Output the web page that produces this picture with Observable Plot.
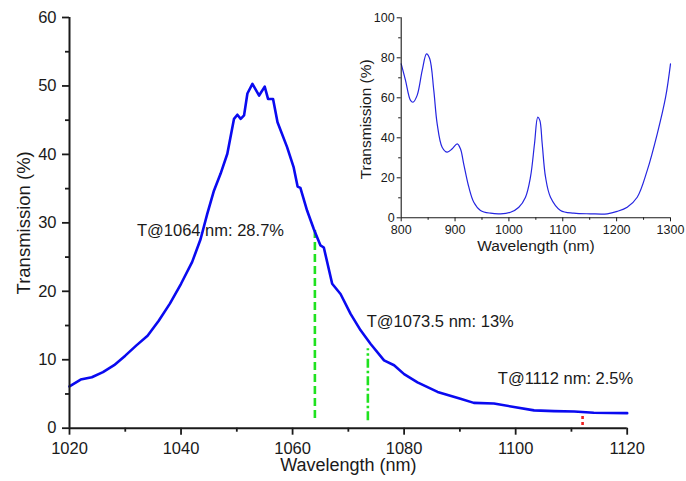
<!DOCTYPE html>
<html>
<head>
<meta charset="utf-8">
<script src="https://cdn.jsdelivr.net/npm/d3@7"></script>
<script src="https://cdn.jsdelivr.net/npm/@observablehq/plot@0.6"></script>
<style>
  html, body { margin: 0; padding: 0; background: #fff; }
  #wrap { position: relative; width: 686px; height: 481px; overflow: hidden; }
  #inset { position: absolute; left: 340px; top: 0px; }
</style>
</head>
<body>
<div id="wrap"><div id="main"></div><div id="inset"></div></div>
<script>
// ---------- main chart data ----------
const mainWl = [1020, 1022, 1024, 1026, 1028, 1030, 1032, 1034, 1036, 1038, 1040, 1042, 1043.5, 1044.7, 1045.9, 1047.1, 1048.3, 1049.5, 1050.1, 1050.7, 1051.3, 1051.9, 1052.8, 1054.0, 1055.0, 1055.6, 1056.5, 1057.3, 1059.0, 1060.2, 1060.9, 1061.4, 1062.6, 1063.8, 1065.0, 1065.6, 1067.1, 1068.6, 1070.4, 1072.2, 1074.0, 1076.4, 1078.2, 1080.0, 1082.4, 1086.0, 1090.1, 1092.5, 1096.1, 1099.7, 1103.3, 1106.9, 1110.5, 1114.0, 1120];
const mainT  = [6.1, 7.1, 7.45, 8.2, 9.2, 10.6, 12.1, 13.5, 15.7, 18.2, 21.1, 24.3, 27.6, 31.3, 34.7, 37.2, 40.1, 45.2, 45.8, 45.2, 45.7, 48.9, 50.3, 48.6, 49.9, 48.1, 48.1, 44.7, 41.1, 38.1, 35.3, 35.1, 31.8, 29.1, 26.7, 26.4, 21.1, 19.6, 16.7, 14.3, 12.3, 9.9, 9.2, 7.9, 6.7, 5.3, 4.3, 3.7, 3.6, 3.1, 2.6, 2.5, 2.45, 2.25, 2.2];

const mainXTicks = [1020, 1040, 1060, 1080, 1100, 1120];
const mainXMinor = [1030, 1050, 1070, 1090, 1110];
const mainYTicks = [0, 10, 20, 30, 40, 50, 60];
const mainYMinor = [5, 15, 25, 35, 45, 55];

// marker lines & annotations
const markWl     = [1064, 1073.5, 1112];
const markTop    = [29.0, 11.6, 2.3];
const markBottom = [1.4, 1.1, 0.4];
const labelText  = ["T@1064 nm: 28.7%", "T@1073.5 nm: 13%", "T@1112 nm: 2.5%"];
const labelX     = [1032.1, 1073.3, 1096.8];
const labelY     = [28.8, 15.6, 7.2];

// ---------- inset data ----------
const insetWl = [800, 808, 817.3, 822, 829.6, 839, 847, 853, 860.5, 866.8, 876, 885.4, 894.7, 904, 910, 916, 925.6, 934.8, 947.2, 965.8, 984.4, 1003, 1018.4, 1030.8, 1040, 1047.5, 1053.6, 1057.4, 1061.8, 1068, 1077.2, 1095.8, 1120.5, 1151.5, 1182.5, 1201, 1219.6, 1238.2, 1256.8, 1275.4, 1290.9, 1300];
const insetT  = [77, 68.7, 58.7, 57.8, 61.2, 73.7, 82, 79.5, 63.7, 47, 35.3, 32.8, 34.5, 37, 34.5, 27, 15.3, 7.8, 3.7, 2.3, 2, 2.8, 5.3, 10.3, 20.3, 37, 50.3, 48.7, 37, 20.3, 10.3, 3.7, 2.3, 2, 2, 3.2, 5.3, 10.3, 23.7, 42, 60.3, 77];

const insetXTicks = [800, 900, 1000, 1100, 1200, 1300];
const insetXMinor = [850, 950, 1050, 1150, 1250];
const insetYTicks = [0, 20, 40, 60, 80, 100];
const insetYMinor = [10, 30, 50, 70, 90];

const FONT = "'Liberation Sans', Arial, Helvetica, sans-serif";
const fmt = d => String(d);
const noLabel = () => "";

const mainData = mainWl.map((w, i) => ({w, t: mainT[i]}));
const marks = markWl.map((w, i) => ({w, top: markTop[i], bottom: markBottom[i]}));
const labels = labelText.map((s, i) => ({s, x: labelX[i], y: labelY[i]}));
const lineStyles = [
  {stroke: "#1fe21f", dash: "8,4"},
  {stroke: "#1fe21f", dash: "9,3,2.5,3"},
  {stroke: "#ee2020", dash: "3,3"}
];

const main = Plot.plot({
  width: 686, height: 481,
  marginLeft: 69, marginRight: 59.3, marginTop: 17, marginBottom: 53.3,
  style: {fontFamily: FONT, fontSize: "16px", color: "#1a1a1a", background: "transparent", overflow: "visible"},
  x: {domain: [1020, 1120]},
  y: {domain: [0, 60]},
  marks: [
    ...marks.map((m, i) => Plot.ruleX([m], {x: "w", y1: "bottom", y2: "top", stroke: lineStyles[i].stroke, strokeWidth: 2.6, strokeDasharray: lineStyles[i].dash})),
    Plot.line(mainData, {x: "w", y: "t", stroke: "#0a0af0", strokeWidth: 2.6, strokeLinejoin: "round"}),
    Plot.axisX({ticks: mainXTicks, tickFormat: fmt, tickSize: 7, tickPadding: 7, fontSize: 16.5, strokeWidth: 1.8, label: null, stroke: "#1a1a1a"}),
    Plot.axisX({ticks: mainXMinor, tickSize: 4, tickFormat: noLabel, strokeWidth: 1.8, label: null, stroke: "#1a1a1a"}),
    Plot.axisY({ticks: mainYTicks, tickFormat: fmt, tickSize: 7, tickPadding: 6, fontSize: 16.5, strokeWidth: 1.8, label: null, stroke: "#1a1a1a"}),
    Plot.axisY({ticks: mainYMinor, tickSize: 4, tickFormat: noLabel, strokeWidth: 1.8, label: null, stroke: "#1a1a1a"}),
    Plot.ruleY([0], {stroke: "#1a1a1a", strokeWidth: 2}),
    Plot.ruleX([1020], {stroke: "#1a1a1a", strokeWidth: 2}),
    Plot.text(["Wavelength (nm)"], {frameAnchor: "bottom", dy: 43, fontSize: 18, fill: "#1a1a1a"}),
    Plot.text(["Transmission (%)"], {frameAnchor: "left", textAnchor: "middle", rotate: -90, dx: -45, fontSize: 18.5, fill: "#1a1a1a"}),
    Plot.text(labels, {x: "x", y: "y", text: "s", textAnchor: "start", fontSize: 16.5, fill: "#1a1a1a"})
  ]
});
document.getElementById("main").appendChild(main);

const insetData = insetWl.map((w, i) => ({w, t: insetT[i]}));
const inset = Plot.plot({
  width: 346, height: 265,
  marginLeft: 60.7, marginRight: 16, marginTop: 17.3, marginBottom: 47.7,
  style: {fontFamily: FONT, fontSize: "12px", color: "#1a1a1a", background: "transparent", overflow: "visible"},
  x: {domain: [800, 1300]},
  y: {domain: [0, 100]},
  marks: [
    Plot.line(insetData, {x: "w", y: "t", stroke: "#2525e0", strokeWidth: 1.2, curve: "catmull-rom"}),
    Plot.axisX({ticks: insetXTicks, tickFormat: fmt, tickSize: 4, tickPadding: 3, fontSize: 12.5, strokeWidth: 1, label: null, stroke: "#1a1a1a"}),
    Plot.axisX({ticks: insetXMinor, tickSize: 2.5, tickFormat: noLabel, strokeWidth: 1, label: null, stroke: "#1a1a1a"}),
    Plot.axisY({ticks: insetYTicks, tickFormat: fmt, tickSize: 4, tickPadding: 2.5, fontSize: 12.5, strokeWidth: 1, label: null, stroke: "#1a1a1a"}),
    Plot.axisY({ticks: insetYMinor, tickSize: 2.5, tickFormat: noLabel, strokeWidth: 1, label: null, stroke: "#1a1a1a"}),
    Plot.ruleY([0], {stroke: "#1a1a1a", strokeWidth: 1.1}),
    Plot.ruleX([800], {stroke: "#1a1a1a", strokeWidth: 1.1}),
    Plot.text(["Wavelength (nm)"], {frameAnchor: "bottom", dy: 33, fontSize: 15.5, fill: "#1a1a1a"}),
    Plot.text(["Transmission (%)"], {frameAnchor: "left", textAnchor: "middle", rotate: -90, dx: -35, dy: 1.5, fontSize: 15.5, fill: "#1a1a1a"})
  ]
});
document.getElementById("inset").appendChild(inset);
</script>
</body>
</html>
